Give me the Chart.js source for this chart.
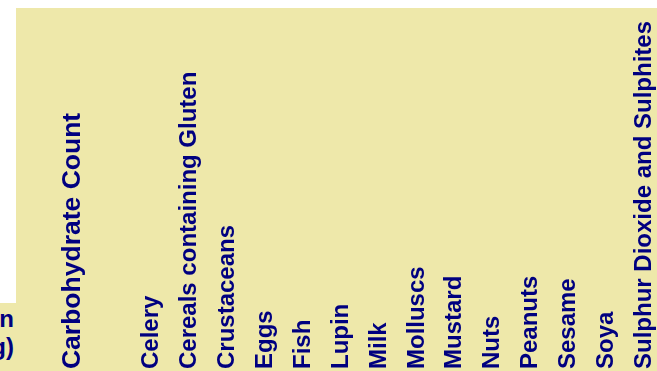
<!DOCTYPE html>
<html>
<head>
<meta charset="utf-8">
<script src="https://cdn.jsdelivr.net/npm/chart.js@4.4.1/dist/chart.umd.min.js"></script>
<style>
    html, body { margin: 0; padding: 0; width: 657px; height: 371px; overflow: hidden; background: #ffffff; }
    #board { position: absolute; left: 16px; top: 8px; width: 641px; height: 363px; background: #eee8aa; overflow: hidden; }
    #chartBox { position: absolute; left: 0; top: 0; width: 676px; height: 820px; }
    #rowHead { position: absolute; left: 0; top: 303px; width: 16px; height: 68px; background: #eee8aa; overflow: hidden; }
    #rowHead div { position: absolute; right: 2px; top: 2px; width: 200px; text-align: right;
        font: bold 24px "Liberation Sans", Arial, sans-serif; line-height: 28px; color: #000080; }
</style>
</head>
<body>
<div id="rowHead"><div>Portion<br>Size (g)</div></div>
<div id="board">
    <div id="chartBox"><canvas id="allergenChart"></canvas></div>
</div>
<script>
// Column headers of the allergen table (blank columns kept as empty labels)
const columns = ['', 'Carbohydrate Count', '', 'Celery', 'Cereals containing Gluten', 'Crustaceans',
    'Eggs', 'Fish', 'Lupin', 'Milk', 'Molluscs', 'Mustard', 'Nuts', 'Peanuts', 'Sesame', 'Soya',
    'Sulphur Dioxide and Sulphites'];

// No rows are visible in the picture, so every column is empty
const rowValues = [0, 0, 0, 0, 0, 0, 0, 0, 0, 0, 0, 0, 0, 0, 0, 0, 0];

const headerColor = '#000080';

document.addEventListener('DOMContentLoaded', function() {
    initAllergenChart();
});

function initAllergenChart() {
    const ctx = document.getElementById('allergenChart').getContext('2d');
    new Chart(ctx, {
        type: 'bar',
        data: {
            labels: columns,
            datasets: [{
                label: 'Contains',
                data: rowValues,
                backgroundColor: headerColor,
                borderWidth: 0
            }]
        },
        options: {
            responsive: true,
            maintainAspectRatio: false,
            animation: false,
            layout: {
                padding: { top: 10, left: 32, right: 0, bottom: 0 }
            },
            plugins: {
                legend: { display: false },
                tooltip: { enabled: false }
            },
            scales: {
                x: {
                    position: 'top',
                    border: { display: false },
                    grid: { display: false, drawTicks: false },
                    ticks: {
                        autoSkip: false,
                        minRotation: 90,
                        maxRotation: 90,
                        padding: 3,
                        color: headerColor,
                        font: function(context) {
                            return {
                                family: '"Liberation Sans", Arial, sans-serif',
                                weight: 'bold',
                                size: context.index === 1 ? 26.5 : 24
                            };
                        }
                    }
                },
                y: {
                    display: false,
                    beginAtZero: true
                }
            }
        }
    });
}
</script>
</body>
</html>
